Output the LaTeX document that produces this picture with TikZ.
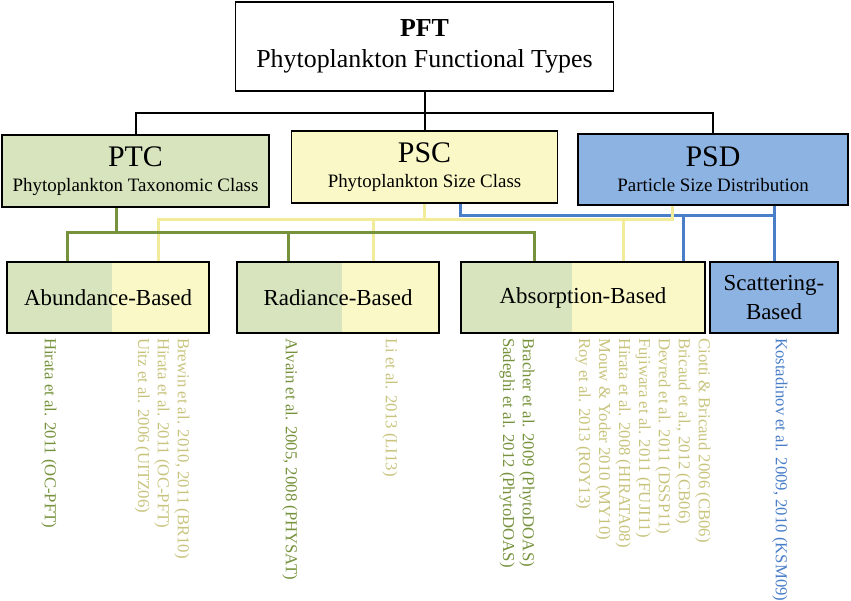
\documentclass[tikz,border=0pt]{standalone}
\usepackage{fontspec}
\setmainfont{Liberation Serif}
\usepackage{tikz}
\usetikzlibrary{positioning}

\definecolor{ptcfill}{HTML}{D7E4BD}
\definecolor{pscfill}{HTML}{FAF8C6}
\definecolor{psdfill}{HTML}{8DB3E2}
\definecolor{ptcgreen}{HTML}{76923C}
\definecolor{pscyellow}{HTML}{F2EC9A}
\definecolor{psdblue}{HTML}{4A7EC8}
\definecolor{citelight}{HTML}{C8C47E}

\tikzset{
  box/.style={draw=black, line width=1.2bp, inner sep=0pt, align=center},
  topbox/.style={box, fill=white, minimum width=378bp, minimum height=89bp,
    font=\fontsize{26}{31}\selectfont},
  classbox/.style={box, minimum width=267bp, minimum height=72bp,
    font=\fontsize{19}{25}\selectfont},
  basedbox/.style={box, fill=pscfill, minimum height=71bp,
    font=\fontsize{23}{30}\selectfont},
  splitbox/.style={basedbox, path picture={
    \fill[ptcfill] (path picture bounding box.south west)
      rectangle ([xshift=#1]path picture bounding box.north west);}},
  blackline/.style={draw=black, line width=2bp},
  ptcline/.style={draw=ptcgreen, line width=3bp},
  pscline/.style={draw=pscyellow, line width=3bp},
  psdline/.style={draw=psdblue, line width=3bp},
  cite/.style={rotate=-90, anchor=west, inner sep=0pt, align=left,
    font=\fontsize{16.8}{20}\selectfont},
  citedark/.style={cite, text=ptcgreen},
  citelite/.style={cite, text=citelight},
  citeblue/.style={cite, text=psdblue}
}

\newcommand{\bigline}[1]{{\fontsize{30}{30}\selectfont #1}}

\begin{document}
\begin{tikzpicture}[x=1bp, y=-1bp]
    \useasboundingbox (0,0) rectangle (851,601);

    \node[topbox] (pft) at (424.5,46.5) {\textbf{PFT}\\Phytoplankton Functional Types};

    \node[classbox, fill=ptcfill] (ptc) at (135.5,171)
      {\bigline{PTC}\\Phytoplankton Taxonomic Class};
    \node[classbox, fill=pscfill, minimum width=266bp] (psc) at (424.5,167)
      {\bigline{PSC}\\Phytoplankton Size Class};
    \node[classbox, fill=psdfill, minimum width=270bp, minimum height=71bp] (psd) at (713,169.5)
      {\bigline{PSD}\\Particle Size Distribution};

    \node[splitbox=105bp, minimum width=202bp] (abund) at (108,297.5) {Abundance-Based};
    \node[splitbox=105bp, minimum width=202bp] (rad) at (338,297.5) {Radiance-Based};
    \node[splitbox=111bp, minimum width=244bp] (absorp) at (583,297.5) {Absorption-Based};
    \node[basedbox, fill=psdfill, minimum width=128bp] (scat) at (774,297.5) {Scattering-\\Based};

    \draw[blackline] (ptc.north) |- (pft.south |- 0,113) -| (psd.north);
    \draw[blackline] (pft.south) -- (psc.north);

    \draw[psdline] ([xshift=36bp]psc.south) -- ++(0,12) -| (scat.north);
    \draw[psdline] ([xshift=100bp]absorp.north) -- ++(0,-47);
    \draw[psdline] ([xshift=61bp]psd.south) -- ++(0,10);

    \draw[pscline] (psc.south) -- ++(0,17);
    \draw[pscline] ([xshift=50bp]abund.north) -- ++(0,-42) -| ([xshift=-41bp]psd.south);
    \draw[pscline] ([xshift=35bp]rad.north) -- ++(0,-42);
    \draw[pscline] ([xshift=40bp]absorp.north) -- ++(0,-42);

    \draw[ptcline] ([xshift=-19bp]ptc.south) -- ++(0,26);
    \draw[ptcline] ([xshift=-41bp]abund.north) -- ++(0,-29) -| ([xshift=-49bp]absorp.north);
    \draw[ptcline] ([xshift=-50bp]rad.north) -- ++(0,-29);

    \node[citedark] (hir11) at (49,338) {Hirata et al. 2011 (OC-PFT)};
    \node[citelite] (brew) at (162,338)
      {Brewin et al. 2010, 2011 (BR10)\\Hirata et al. 2011 (OC-PFT)\\Uitz et al. 2006 (UITZ06)};
    \node[citedark] (alv) at (290,338) {Alvain et al. 2005, 2008 (PHYSAT)};
    \node[citelite] (li13) at (390,338) {Li et al. 2013 (LI13)};
    \node[citedark] (brach) at (517,338)
      {Bracher et al. 2009 (PhytoDOAS)\\Sadeghi et al. 2012 (PhytoDOAS)};
    \node[citelite] (ciot) at (643,338)
      {Ciotti \& Bricaud 2006 (CB06)\\Bricaud et al., 2012 (CB06)\\Devred et al. 2011 (DSSP11)\\Fujiwara et al. 2011 (FUJI11)\\Hirata et al. 2008 (HIRATA08)\\Mouw \& Yoder 2010 (MY10)\\Roy et al. 2013 (ROY13)};
    \node[citeblue] (kost) at (780,338) {Kostadinov et al. 2009, 2010 (KSM09)};
\end{tikzpicture}
\end{document}
